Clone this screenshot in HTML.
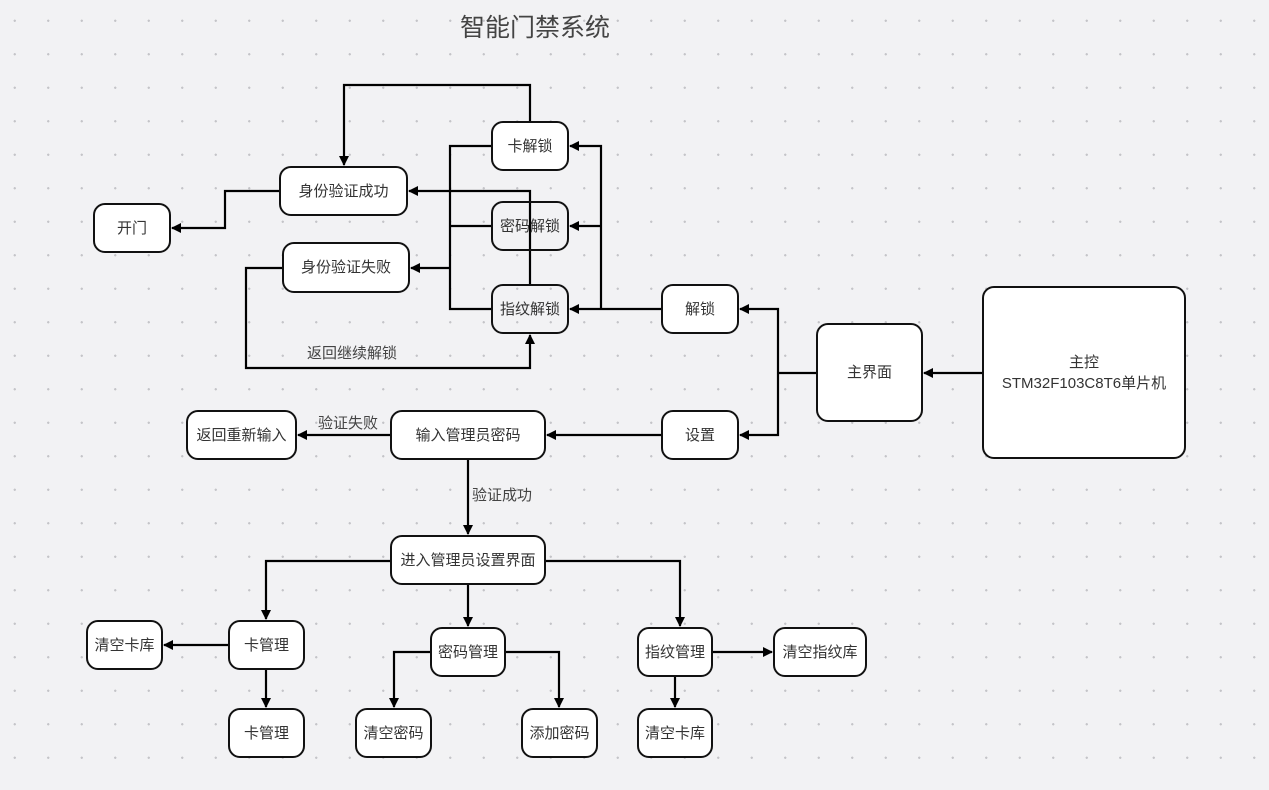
<!DOCTYPE html>
<html><head><meta charset="utf-8"><style>
body{margin:0;width:1269px;height:790px;overflow:hidden;background:#f2f2f4;
background-image:radial-gradient(circle,#c4c4c8 1px,transparent 1.3px);background-size:33.5px 33.5px;background-position:-2px 4px;
font-family:"Liberation Sans","Noto Sans CJK SC",sans-serif;position:relative}
.b{position:absolute;box-sizing:border-box;border:2.8px solid #111;border-radius:12px;background:#fff;display:flex;align-items:center;justify-content:center;font-size:15px;color:#333;text-align:center;line-height:21px}
svg{position:absolute;left:0;top:0}
.t{position:absolute;font-size:15px;color:#444}
</style></head><body>
<div class="t" style="left:460px;top:8px;font-size:25px;color:#444">智能门禁系统</div>
<svg width="1269" height="790">
<defs><marker id="a" markerWidth="10" markerHeight="10" refX="9" refY="5" orient="auto" markerUnits="userSpaceOnUse"><path d="M0,0 L10,5 L0,10z" fill="#000"/></marker></defs>
<g stroke="#000" stroke-width="2.2" fill="none">
<path d="M982 373H924" marker-end="url(#a)"/>
<path d="M816 373H778"/>
<path d="M778 373V309H740" marker-end="url(#a)"/>
<path d="M778 373V435H740" marker-end="url(#a)"/>
<path d="M661 309H570" marker-end="url(#a)"/>
<path d="M601 309V146H570" marker-end="url(#a)"/>
<path d="M601 226H570" marker-end="url(#a)"/>
<path d="M491 146H450V309H491M450 226H491"/>
<path d="M450 268H411" marker-end="url(#a)"/>
<path d="M530 121V85H344V165" marker-end="url(#a)"/>
<path d="M530 284V191H409" marker-end="url(#a)"/>
<path d="M279 191H225V228H172" marker-end="url(#a)"/>
<path d="M282 268H246V368H530V335" marker-end="url(#a)"/>
<path d="M661 435H547" marker-end="url(#a)"/>
<path d="M390 435H298" marker-end="url(#a)"/>
<path d="M468 460V534" marker-end="url(#a)"/>
<path d="M390 561H266V619" marker-end="url(#a)"/>
<path d="M546 561H680V626" marker-end="url(#a)"/>
<path d="M468 585V626" marker-end="url(#a)"/>
<path d="M228 645H164" marker-end="url(#a)"/>
<path d="M266 670V707" marker-end="url(#a)"/>
<path d="M430 652H394V707" marker-end="url(#a)"/>
<path d="M506 652H559V707" marker-end="url(#a)"/>
<path d="M713 652H772" marker-end="url(#a)"/>
<path d="M675 677V707" marker-end="url(#a)"/>
</g></svg>
<div class="b" style="left:491px;top:121px;width:78px;height:50px">卡解锁</div>
<div class="b" style="left:279px;top:166px;width:129px;height:50px">身份验证成功</div>
<div class="b" style="left:93px;top:203px;width:78px;height:50px">开门</div>
<div class="b" style="left:491px;top:201px;width:78px;height:50px;background:transparent">密码解锁</div>
<div class="b" style="left:282px;top:242px;width:128px;height:51px">身份验证失败</div>
<div class="b" style="left:491px;top:284px;width:78px;height:50px;background:transparent">指纹解锁</div>
<div class="b" style="left:661px;top:284px;width:78px;height:50px">解锁</div>
<div class="b" style="left:816px;top:323px;width:107px;height:99px">主界面</div>
<div class="b" style="left:982px;top:286px;width:204px;height:173px">主控<br>STM32F103C8T6单片机</div>
<div class="b" style="left:661px;top:410px;width:78px;height:50px">设置</div>
<div class="b" style="left:390px;top:410px;width:156px;height:50px">输入管理员密码</div>
<div class="b" style="left:186px;top:410px;width:111px;height:50px">返回重新输入</div>
<div class="b" style="left:390px;top:535px;width:156px;height:50px">进入管理员设置界面</div>
<div class="b" style="left:228px;top:620px;width:77px;height:50px">卡管理</div>
<div class="b" style="left:86px;top:620px;width:77px;height:50px">清空卡库</div>
<div class="b" style="left:430px;top:627px;width:76px;height:50px">密码管理</div>
<div class="b" style="left:637px;top:627px;width:76px;height:50px">指纹管理</div>
<div class="b" style="left:773px;top:627px;width:94px;height:50px">清空指纹库</div>
<div class="b" style="left:228px;top:708px;width:77px;height:50px">卡管理</div>
<div class="b" style="left:355px;top:708px;width:77px;height:50px">清空密码</div>
<div class="b" style="left:521px;top:708px;width:77px;height:50px">添加密码</div>
<div class="b" style="left:637px;top:708px;width:76px;height:50px">清空卡库</div>
<div class="t" style="left:307px;top:342px">返回继续解锁</div>
<div class="t" style="left:318px;top:412px">验证失败</div>
<div class="t" style="left:472px;top:484px">验证成功</div>
</body></html>
